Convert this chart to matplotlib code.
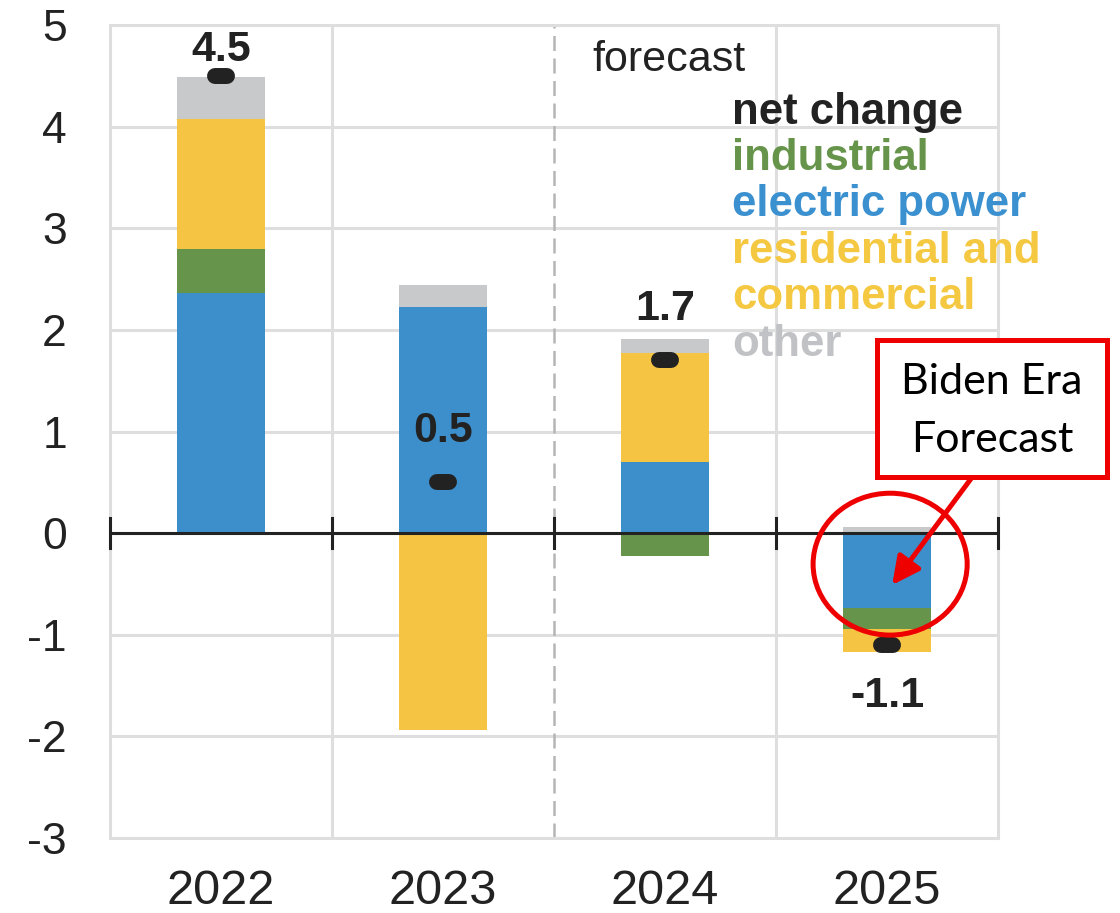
import matplotlib
matplotlib.use('Agg')
import matplotlib.pyplot as plt
import numpy as np
from matplotlib.markers import MarkerStyle
from matplotlib.patches import Ellipse, Rectangle, Circle

plt.rcParams['font.family'] = ['Liberation Sans', 'DejaVu Sans']
plt.rcParams['axes.unicode_minus'] = False

# 天然气消费变化（按部门，十亿立方英尺/日）
years = ['2022', '2023', '2024', '2025']
electric = [2.36, 2.23, 0.70, -0.74]
industrial = [0.44, 0.00, -0.22, -0.20]
residential = [1.28, -1.94, 1.07, -0.23]
other = [0.41, 0.21, 0.14, 0.06]
net = [4.5, 0.5, 1.7, -1.1]

sectors = [electric, industrial, residential, other]
colors = ['#3d8fcc', '#66944a', '#f5c443', '#c8c9cb']

legend_labels = ['net change', 'industrial', 'electric power',
                 'residential and', 'commercial', 'other']
legend_colors = ['#222222', '#66944a', '#3b91d0', '#f5c842', '#f5c842', '#c0c2c5']

red = '#ee0000'
grid_c = '#dedede'

fig = plt.figure(figsize=(11.2, 9.13), dpi=100)
ax = fig.add_axes([0.0982, 0.0821, 0.7929, 0.8905])

x = np.arange(len(years))
bar_w = 0.4

# 正负分别堆叠
pos_base = np.zeros(len(years))
neg_base = np.zeros(len(years))
for vals, c in zip(sectors, colors):
    vals = np.array(vals)
    pos = np.where(vals > 0, vals, 0)
    neg = np.where(vals < 0, vals, 0)
    ax.bar(x, pos, bar_w, bottom=pos_base, color=c, zorder=3)
    ax.bar(x, neg, bar_w, bottom=neg_base, color=c, zorder=3)
    pos_base += pos
    neg_base += neg

# 净变化标记 + 数值
mk = MarkerStyle('_', capstyle='round')
ax.plot(x, net, linestyle='none', marker=mk, markersize=8,
        markeredgewidth=11.5, color='#222222', zorder=5)
label_offsets = [11, 29, 29, -22]
for i, v in enumerate(net):
    off = label_offsets[i]
    ax.annotate(f'{v:.1f}', (x[i], v), xytext=(0, off), textcoords='offset points',
                ha='center', va='baseline' if off > 0 else 'top',
                fontsize=31, fontweight='bold', color='#222222', zorder=6)

# 坐标轴
ax.set_xlim(-0.5, 3.5)
ax.set_ylim(-3, 5)
ax.set_yticks(range(-3, 6))
ax.set_xticks(x)
ax.set_xticklabels(years)
ax.tick_params(axis='y', length=0, pad=31, labelsize=32, labelcolor='#222222')
ax.tick_params(axis='x', length=0, pad=22, labelsize=35, labelcolor='#222222')
ax.yaxis.grid(True, color=grid_c, linewidth=2.2, zorder=0)
ax.set_axisbelow(True)
for s in ax.spines.values():
    s.set_color(grid_c)
    s.set_linewidth(2.2)
for b in [0.5, 2.5]:
    ax.axvline(b, color=grid_c, linewidth=2.2, zorder=0)
ax.axvline(1.5, color='#b5b5b5', linewidth=1.8, linestyle=(0, (6, 3)), zorder=1)

# 零线及刻度
ax.axhline(0, color='#222222', linewidth=2.2, zorder=4)
for b in np.arange(-0.5, 4, 1.0):
    ax.plot([b, b], [-0.15, 0.15], color='#222222', linewidth=2.2,
            zorder=4, clip_on=False)

# 图例文字
ax.text(1.671, 4.55, 'forecast', fontsize=31, color='#222222', va='baseline')
for k, (lab, c) in enumerate(zip(legend_labels, legend_colors)):
    ax.text(2.302, 4.03 - k * 0.457, lab, fontsize=31.5, fontweight='bold',
            color=c, va='baseline', zorder=6)

# 红色标注
ax.add_patch(Ellipse((3.014, -0.305), 0.694, 1.396, fill=False, edgecolor=red,
                     linewidth=3.6, zorder=7, clip_on=False))
ax.annotate('', xy=(3.023, -0.51), xytext=(3.383, 0.55),
            arrowprops=dict(arrowstyle='-|>', color=red, lw=3.6,
                            mutation_scale=42, shrinkA=0, shrinkB=0),
            zorder=7, annotation_clip=False)

fig.patches.append(Rectangle((877 / 1120, 1 - 477 / 913), 230 / 1120, 137 / 913,
                             transform=fig.transFigure, facecolor='white',
                             edgecolor=red, linewidth=3.6, zorder=8))
fig.text(992 / 1120, 1 - 382 / 913, 'Biden Era', ha='center', va='center',
         fontsize=31, family=['Lato', 'DejaVu Sans'], color='black', zorder=9)
fig.text(992 / 1120, 1 - 440 / 913, 'Forecast', ha='center', va='center',
         fontsize=31, family=['Lato', 'DejaVu Sans'], color='black', zorder=9)

# 右下角的蓝色圆形
fig.patches.append(Circle((989 / 1120, 1 - 953 / 913), 45 / 1120,
                          transform=fig.transFigure, facecolor='#3d8fcc',
                          edgecolor='none'))

fig.savefig('out.png', dpi=100, facecolor='white')
